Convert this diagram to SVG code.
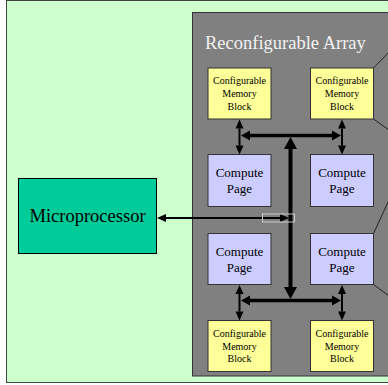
<svg xmlns="http://www.w3.org/2000/svg" width="388" height="385" viewBox="0 0 388 385">
<style>
.mem{fill:#FFFF99;stroke:#333;stroke-width:1}
.cp{fill:#CCCCFF;stroke:#333;stroke-width:1}
.t{font-family:"Liberation Serif","Times New Roman",serif;text-anchor:middle;fill:#000}
.mt{font-size:10px}
.ct{font-size:13px}
.bus{stroke:#000;fill:none}
.diag{stroke:#222;stroke-width:1;fill:none}
</style>
<defs>
<marker id="big" markerUnits="userSpaceOnUse" markerWidth="13" markerHeight="13" refX="0" refY="6.5" orient="auto-start-reverse" overflow="visible"><path d="M0,0 L12,6.5 L0,13 z" fill="#000"/></marker>
<marker id="mid" markerUnits="userSpaceOnUse" markerWidth="10" markerHeight="10" refX="0" refY="5" orient="auto-start-reverse" overflow="visible"><path d="M0,0 L9,5 L0,10 z" fill="#000"/></marker>
<marker id="sm" markerUnits="userSpaceOnUse" markerWidth="9" markerHeight="8" refX="0" refY="4" orient="auto-start-reverse" overflow="visible"><path d="M0,0 L9,4 L0,8 z" fill="#000"/></marker>
</defs>
<rect x="6.5" y="0.5" width="400" height="382" fill="#CCFFCC" stroke="#444" stroke-width="1"/>
<g id="array">
<rect x="192.5" y="12.5" width="220" height="363.5" fill="#808080" stroke="#333" stroke-width="1"/>
<text x="205" y="49" font-family="'Liberation Serif','Times New Roman',serif" font-size="18.5" fill="#F2F2F2">Reconfigurable Array</text>
</g>
<g id="microprocessor">
<rect x="18.5" y="178.5" width="138" height="75" fill="#00CC99" stroke="#000" stroke-width="1"/>
<text class="t" x="87.5" y="222" font-size="18.5">Microprocessor</text>
</g>
<g id="mem-tl"><rect class="mem" x="208" y="68" width="63" height="51"/><text class="t mt" x="239.5" y="84">Configurable</text><text class="t mt" x="239.5" y="97">Memory</text><text class="t mt" x="239.5" y="110">Block</text></g>
<g id="mem-tr"><rect class="mem" x="310.5" y="68" width="63" height="51"/><text class="t mt" x="342" y="84">Configurable</text><text class="t mt" x="342" y="97">Memory</text><text class="t mt" x="342" y="110">Block</text></g>
<g id="cp-tl"><rect class="cp" x="208" y="154.5" width="63" height="52"/><text class="t ct" x="239.5" y="177">Compute</text><text class="t ct" x="239.5" y="193">Page</text></g>
<g id="cp-tr"><rect class="cp" x="310.5" y="154.5" width="63" height="52"/><text class="t ct" x="342" y="177">Compute</text><text class="t ct" x="342" y="193">Page</text></g>
<g id="cp-bl"><rect class="cp" x="208" y="233.5" width="63" height="51"/><text class="t ct" x="239.5" y="256">Compute</text><text class="t ct" x="239.5" y="272">Page</text></g>
<g id="cp-br"><rect class="cp" x="310.5" y="233.5" width="63" height="51"/><text class="t ct" x="342" y="256">Compute</text><text class="t ct" x="342" y="272">Page</text></g>
<g id="mem-bl"><rect class="mem" x="208" y="320.5" width="63" height="51"/><text class="t mt" x="239.5" y="336.5">Configurable</text><text class="t mt" x="239.5" y="349.5">Memory</text><text class="t mt" x="239.5" y="362">Block</text></g>
<g id="mem-br"><rect class="mem" x="310.5" y="320.5" width="63" height="51"/><text class="t mt" x="342" y="336.5">Configurable</text><text class="t mt" x="342" y="349.5">Memory</text><text class="t mt" x="342" y="362">Block</text></g>
<g id="connectors">
<line class="bus" x1="250" y1="135.5" x2="332" y2="135.5" stroke-width="3.5" marker-start="url(#mid)" marker-end="url(#mid)"/>
<line class="bus" x1="250" y1="300.5" x2="332" y2="300.5" stroke-width="3.5" marker-start="url(#mid)" marker-end="url(#mid)"/>
<line class="bus" x1="290.5" y1="149" x2="290.5" y2="287" stroke-width="4" marker-start="url(#big)" marker-end="url(#big)"/>
<line class="bus" x1="239.5" y1="128.5" x2="239.5" y2="145.5" stroke-width="2" marker-start="url(#sm)" marker-end="url(#sm)"/>
<line class="bus" x1="342" y1="128.5" x2="342" y2="145.5" stroke-width="2" marker-start="url(#sm)" marker-end="url(#sm)"/>
<line class="bus" x1="239.5" y1="294" x2="239.5" y2="311.5" stroke-width="2" marker-start="url(#sm)" marker-end="url(#sm)"/>
<line class="bus" x1="342" y1="294" x2="342" y2="311.5" stroke-width="2" marker-start="url(#sm)" marker-end="url(#sm)"/>
<line class="bus" x1="166" y1="218" x2="280" y2="218" stroke-width="2" marker-start="url(#sm)" marker-end="url(#sm)"/>
<rect x="262.5" y="214" width="32" height="8" fill="none" stroke="#CCCCCC" stroke-width="1"/>
<line class="diag" x1="373.5" y1="68" x2="389" y2="52"/>
<line class="diag" x1="373.5" y1="119" x2="389" y2="130"/>
<line class="diag" x1="373.5" y1="233.5" x2="389" y2="200"/>
<line class="diag" x1="373.5" y1="284.5" x2="389" y2="296"/>
</g>
</svg>
